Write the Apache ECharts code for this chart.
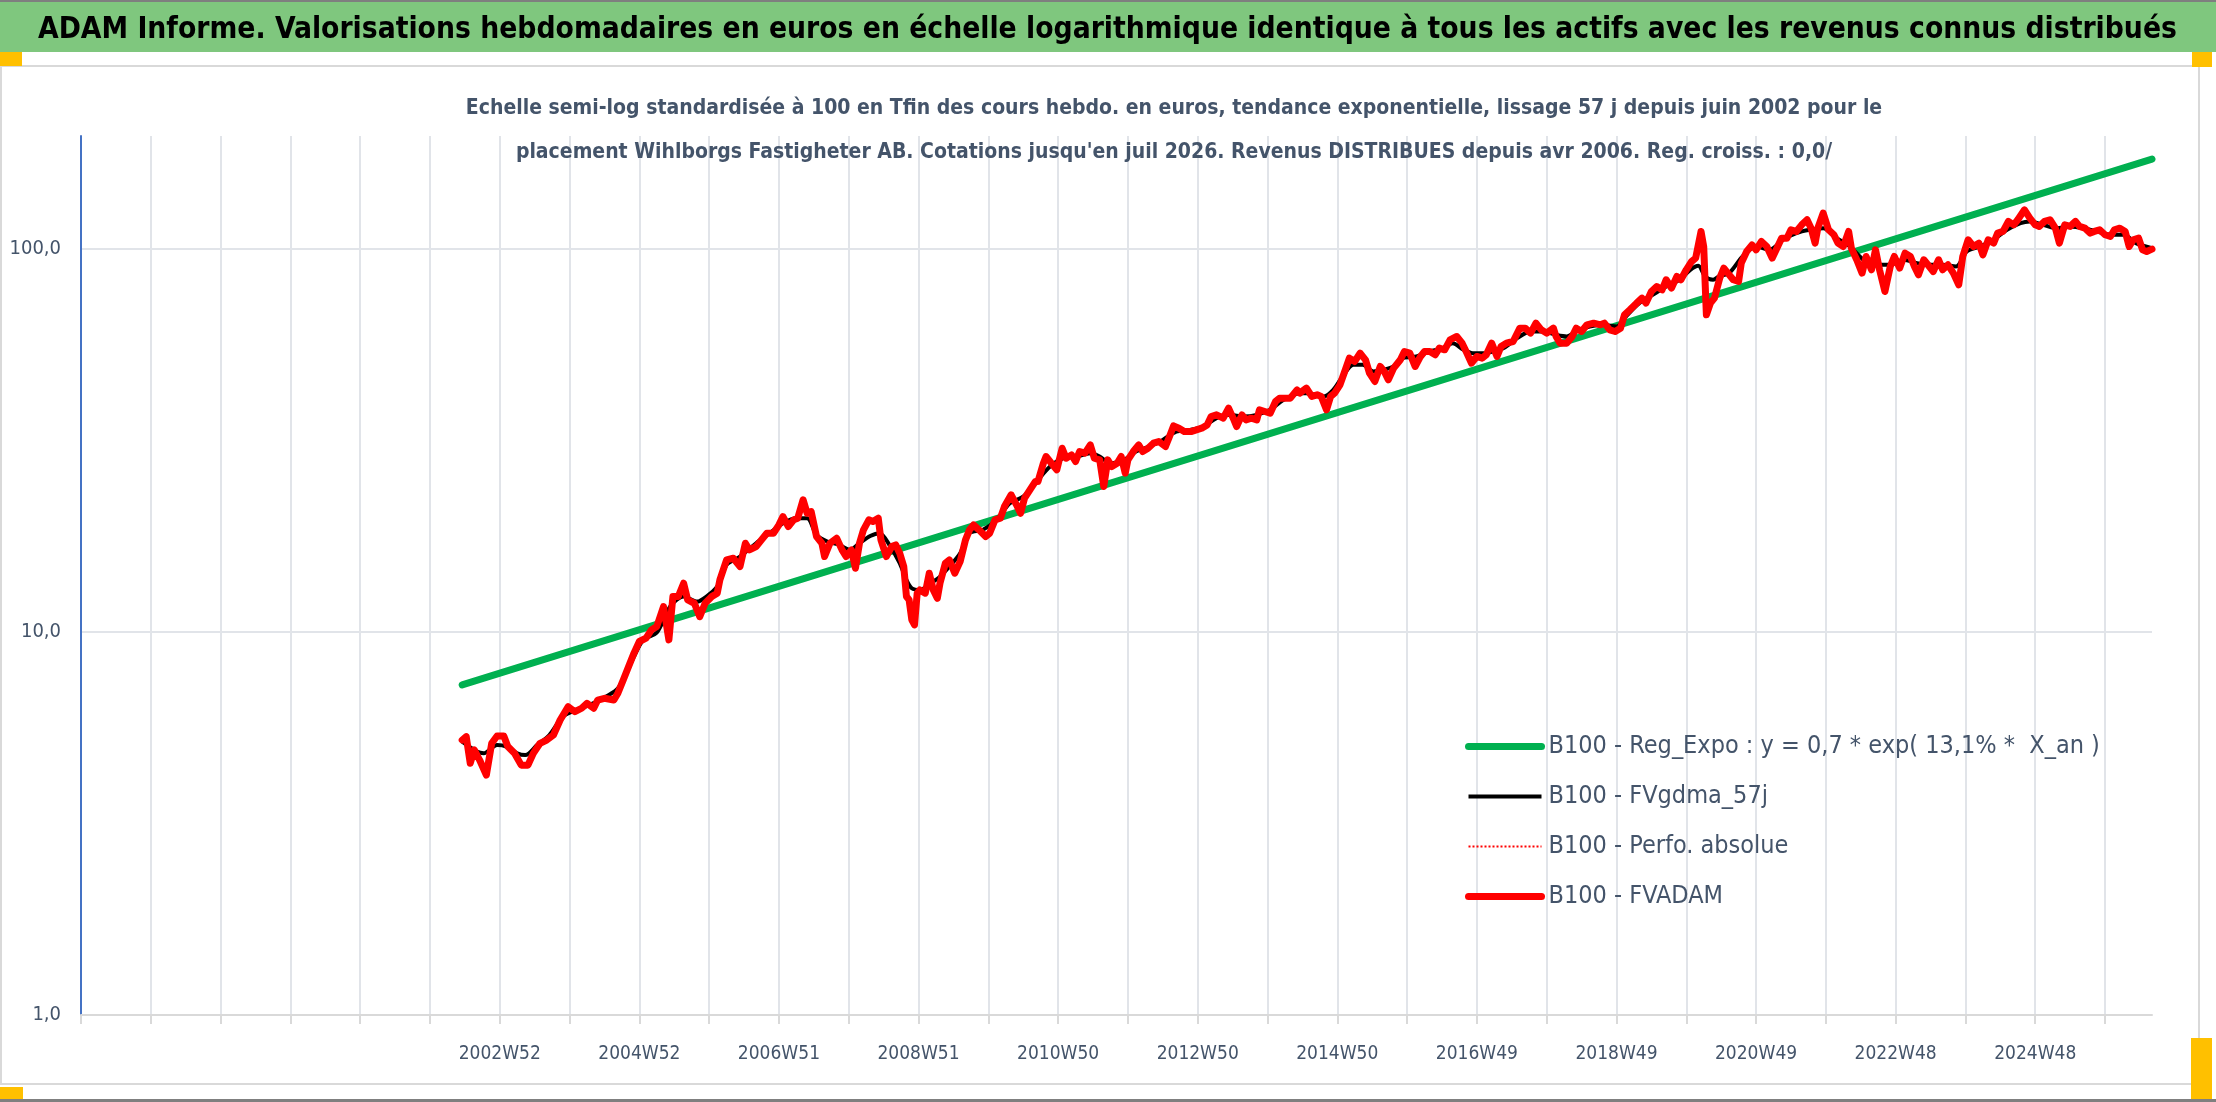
<!DOCTYPE html>
<html>
<head>
<meta charset="utf-8">
<title>ADAM Informe - Wihlborgs Fastigheter AB</title>
<script src="https://cdn.jsdelivr.net/npm/echarts@6/dist/echarts.min.js"></script>
<style>
    html, body { margin: 0; padding: 0; background: #ffffff; }
    #chart { width: 2216px; height: 1102px; }
</style>
</head>
<body>
<div id="chart"></div>
<script>
    // weekly axis: first category is the week of 1996-12-30, last one end of july 2026
    const firstWeekDate = '1996-12-30';
    const weekCount = 1544;
    const firstDataWeek = 284; // juin 2002

    // B100 - FVADAM (red), week index -> value
    const redWeeks = [284, 287, 290, 293, 297, 302, 306, 310, 315, 318, 323, 328, 333, 337, 342, 347, 352, 357, 363, 368,
        373, 377, 382, 385, 390, 397, 400, 404, 408, 412, 416, 421, 425, 429, 434, 438, 441, 445, 449, 452,
        457, 461, 465, 470, 474, 476, 481, 486, 491, 495, 498, 503, 507, 511, 516, 520, 523, 527, 531, 534,
        538, 541, 544, 548, 552, 554, 558, 563, 567, 570, 574, 577, 580, 583, 587, 590, 594,
        596, 600, 604, 607, 610, 613, 615, 617, 619, 621, 623, 625, 629, 632, 635, 638, 640, 644, 647, 651,
        655, 659, 662, 665, 669, 674, 677, 681, 685, 688, 693, 697, 700, 703, 707, 711, 713, 717, 719, 723,
        727, 731, 734, 738, 741, 744, 748, 752, 755, 759, 762, 765, 768, 772, 775, 778, 780, 784, 788, 791,
        795, 799, 803, 808, 811, 814, 818, 822, 827, 831, 835, 839, 842, 846, 851, 855, 859, 861, 865, 868,
        872, 876, 878, 882, 886, 890, 893, 897, 901, 906,
        908, 913, 917, 921, 924, 928, 931, 934, 938, 942, 945, 949, 953, 957, 960, 964, 968, 971, 974, 978,
        983, 986, 990, 994, 998, 1001, 1005, 1009, 1012, 1016, 1020, 1025, 1029, 1032, 1036, 1040, 1044, 1047, 1051, 1055,
        1058, 1062, 1067, 1072, 1076, 1080, 1084, 1088, 1092, 1097, 1099, 1102, 1107, 1111, 1114, 1118, 1122, 1127, 1132, 1135,
        1139, 1143, 1147, 1150, 1154, 1159, 1163, 1166, 1170, 1174, 1178, 1181, 1185, 1189, 1192, 1196, 1200, 1203, 1207, 1209,
        1211, 1214, 1217, 1221,
        1224, 1227, 1231, 1235, 1237, 1241, 1245, 1248, 1252, 1256, 1260, 1263, 1267, 1271, 1274, 1278, 1282, 1286, 1289, 1292,
        1294, 1298, 1302, 1306, 1309, 1313, 1317, 1319, 1323, 1327, 1330, 1334, 1337, 1340, 1344, 1348, 1351, 1355, 1359, 1363,
        1366, 1369, 1373, 1376, 1380, 1384, 1387, 1391, 1395, 1399, 1402, 1406, 1410, 1414, 1417, 1421, 1425, 1428, 1432, 1436,
        1440, 1443, 1448, 1452, 1456, 1459, 1463, 1467, 1471, 1474, 1478, 1482, 1486, 1489, 1493, 1497, 1500, 1504, 1508, 1512,
        1515, 1519, 1523, 1526, 1529, 1533, 1536, 1539, 1543];
    const redValues = [5.22, 5.33, 4.54, 4.92, 4.63, 4.23, 5.12, 5.35, 5.35, 5.02, 4.82, 4.49, 4.49, 4.82, 5.12, 5.22, 5.38, 5.89, 6.38, 6.19,
        6.32, 6.51, 6.32, 6.64, 6.71, 6.64, 6.92, 7.49, 8.12, 8.80, 9.44, 9.63, 10.12, 10.33, 11.65, 9.53, 12.37, 12.37, 13.40, 12.12,
        11.88, 10.96, 11.88, 12.37, 12.62, 13.67, 15.42, 15.57, 14.81, 17.04, 16.37, 16.70, 17.39, 18.10, 18.10, 19.03, 20.00, 18.84, 19.61, 19.81,
        22.12, 20.40, 20.61, 17.74, 17.04, 15.73, 17.04, 17.56, 16.37, 15.73, 16.37, 14.66, 17.04, 18.47, 19.61, 19.42, 19.81,
        17.39, 15.73, 16.70, 16.87, 16.05, 14.81, 12.37, 12.12, 10.75, 10.43, 12.62, 12.87, 12.62, 14.23, 12.87, 12.24, 13.40, 15.11, 15.41, 14.23,
        15.26, 17.39, 18.47, 19.02, 18.47, 17.74, 18.10, 19.61, 19.81, 21.24, 22.79, 21.46, 20.40, 22.34, 23.48, 24.69, 24.69, 27.56, 28.69, 27.56,
        26.48, 30.16, 28.40, 28.98, 27.85, 29.57, 29.28, 30.77, 28.40, 28.12, 23.96, 28.12, 27.02, 27.56, 28.69, 25.96, 28.12, 29.57, 30.77, 29.57,
        30.16, 31.09, 31.40, 30.47, 32.36, 34.50, 34.02, 33.34, 33.34, 33.68, 34.02, 34.70, 36.49, 36.86, 36.13, 38.37, 35.77, 34.36, 36.86, 35.77,
        36.13, 35.77, 37.99, 37.61, 37.23, 39.94, 40.75, 40.75, 40.75, 42.83,
        42.00, 43.27, 41.17, 41.58, 41.17, 37.99, 41.17, 42.00, 44.16, 48.33, 51.84, 50.81, 53.41, 51.31, 47.37, 45.06, 49.30, 47.85, 45.50, 48.82,
        51.31, 53.95, 53.41, 49.30, 52.36, 53.95, 53.95, 52.89, 55.05, 54.50, 57.86, 59.04, 56.71, 53.95, 50.29, 52.36, 51.84, 52.89, 56.71, 52.36,
        55.59, 56.71, 57.28, 62.06, 62.06, 60.24, 63.97, 61.45, 60.24, 62.06, 59.04, 56.71, 56.71, 59.04, 62.06, 60.84, 63.33, 63.97, 63.33, 63.97,
        61.45, 60.84, 62.06, 67.25, 69.31, 72.14, 74.34, 72.14, 77.37, 79.74, 78.16, 83.03, 78.95, 84.71, 83.03, 88.16, 92.69, 94.56, 111.0, 101.4,
        67.25, 72.14, 74.34, 84.0,
        89.03, 86.41, 83.03, 82.19, 91.76, 98.42, 102.4, 99.40, 104.5, 101.4, 94.54, 99.40, 106.6, 106.6, 112.1, 111.0, 115.5, 119.1, 113.2, 103.5,
        113.2, 123.9, 112.1, 108.8, 103.5, 101.4, 111.0, 100.4, 93.61, 86.41, 95.50, 88.16, 99.40, 88.16, 77.37, 89.93, 95.50, 89.03, 97.43, 95.50,
        89.93, 85.54, 93.61, 90.84, 87.27, 93.61, 88.16, 90.84, 86.41, 80.54, 95.50, 105.6, 101.4, 103.5, 96.45, 105.6, 103.5, 109.9, 111.0, 117.9,
        115.5, 119.1, 126.4, 120.3, 115.5, 114.4, 117.9, 119.1, 113.2, 103.5, 115.5, 114.4, 117.9, 114.4, 113.2, 109.9, 111.0, 112.1, 108.8, 107.7,
        112.1, 113.2, 111.0, 101.4, 105.6, 106.6, 99.40, 98.42, 99.8];

    // B100 - FVgdma_57j (black, smoothed)
    const blackWeeks = [284, 295, 300, 310, 317, 325, 331, 340, 349, 359, 369, 379, 389, 399, 404, 412, 419, 429, 439, 449,
        459, 466, 474, 481, 491, 503, 513, 523, 533, 541, 548, 556, 565, 573, 580, 588, 595, 603, 610, 615,
        619, 625, 633, 640, 647, 655, 662, 672, 682, 692, 702, 712, 722, 732, 742, 752, 759, 767, 777, 786,
        796, 806, 816, 826, 836, 846, 856, 866, 876, 886, 896, 908, 913, 926, 933, 940, 948, 955, 963, 970,
        978, 985, 995, 1005, 1015, 1022, 1030, 1037, 1045, 1052, 1060, 1070, 1080, 1089, 1099, 1107, 1114, 1124, 1134, 1144,
        1151, 1161, 1171, 1181, 1191, 1199, 1205, 1210, 1216, 1221, 1228, 1238, 1248, 1258, 1268, 1278, 1288, 1298, 1308, 1318,
        1328, 1338, 1348, 1358, 1368, 1378, 1387, 1397, 1405, 1415, 1425, 1435, 1445, 1452, 1462, 1472, 1482, 1492, 1502, 1512,
        1522, 1531, 1543];
    const blackValues = [5.17, 4.87, 4.82, 5.07, 5.02, 4.82, 4.77, 5.07, 5.38, 6.01, 6.26, 6.45, 6.71, 7.06, 7.49, 8.62, 9.53, 9.96, 11.65, 12.37,
        12.00, 12.37, 13.13, 14.96, 15.73, 17.04, 18.10, 19.22, 19.81, 19.81, 17.92, 17.22, 16.87, 16.37, 17.04, 17.80, 18.10, 16.70, 15.11, 13.67,
        13.00, 12.87, 13.40, 13.94, 14.81, 16.05, 18.10, 18.47, 19.61, 21.67, 22.56, 24.69, 27.02, 28.40, 28.69, 29.28, 28.69, 27.56, 28.12, 29.57,
        30.47, 31.71, 33.34, 33.68, 34.36, 36.13, 36.86, 36.49, 36.86, 37.99, 40.34, 41.98, 42.00, 41.17, 42.84, 46.43, 49.80, 49.80, 47.85, 48.33,
        49.30, 51.84, 52.36, 53.95, 55.05, 56.71, 54.50, 53.41, 53.41, 53.95, 55.05, 58.45, 60.84, 60.84, 59.63, 59.04, 60.84, 62.69, 63.33, 62.69,
        66.58, 72.14, 75.85, 79.74, 83.03, 88.16, 90.31, 84.71, 83.03, 85.0, 86.41, 95.50, 101.4, 99.40, 105.6, 109.9, 112.1, 113.2, 106.6, 101.4,
        93.61, 90.84, 90.84, 93.61, 91.76, 90.84, 90.84, 89.93, 98.42, 101.4, 105.6, 112.1, 116.7, 117.9, 115.5, 113.2, 114.4, 113.2, 111.0, 108.8,
        108.8, 103.5, 100.4];

    // B100 - Reg_Expo (green): straight line in semi-log, start and end read on the picture
    const greenWeeks = [284, 1543];
    const greenValues = [7.27, 171.5];

    const yTickValues = [1, 10, 100];
    const yMax = 197;

    const FONT = "'DejaVu Sans Condensed', 'Liberation Sans Narrow', 'Open Sans', sans-serif";
    const GRID_COLOR = '#e1e4e9';
    const TEXT_COLOR = '#44546a';

    function pad(n) { return n < 10 ? '0' + n : '' + n; }
    function isoWeek(d) {
        let t = new Date(Date.UTC(d.getUTCFullYear(), d.getUTCMonth(), d.getUTCDate()));
        let day = t.getUTCDay() || 7;
        t.setUTCDate(t.getUTCDate() + 4 - day);
        let yearStart = new Date(Date.UTC(t.getUTCFullYear(), 0, 1));
        return Math.ceil(((t - yearStart) / 86400000 + 1) / 7);
    }

    // category labels, blank before the first quote
    let weekLabels = [];
    let d0 = new Date(firstWeekDate + 'T00:00:00Z');
    for (let i = 0; i < weekCount; i++) {
        let d = new Date(d0.getTime() + i * 7 * 86400000);
        weekLabels.push(i < firstDataWeek ? '' : d.getUTCFullYear() + 'W' + pad(isoWeek(d)));
    }

    function pairs(weeks, values) {
        return weeks.map(function (w, k) { return [w, values[k]]; });
    }

    let myChart = echarts.init(document.getElementById('chart'));

    let option = {
        animation: false,
        backgroundColor: '#ffffff',
        textStyle: { fontFamily: FONT },
        graphic: [
            { type: 'rect', shape: { x: 0, y: 0, width: 2216, height: 2 }, style: { fill: '#7f7f7f' }, silent: true },
            { type: 'rect', shape: { x: 0, y: 2, width: 2216, height: 50 }, style: { fill: '#7fc77e' }, silent: true },
            { type: 'rect', shape: { x: 1, y: 66, width: 2198, height: 1018 }, style: { fill: 'none', stroke: '#d9d9d9', lineWidth: 2 }, silent: true },
            { type: 'rect', shape: { x: 0, y: 1099, width: 2216, height: 3 }, style: { fill: '#7f7f7f' }, silent: true },
            { type: 'rect', shape: { x: 0, y: 52, width: 22, height: 14 }, style: { fill: '#ffc000' }, silent: true },
            { type: 'rect', shape: { x: 2192, y: 52, width: 20, height: 15 }, style: { fill: '#ffc000' }, silent: true },
            { type: 'rect', shape: { x: 0, y: 1087, width: 23, height: 12 }, style: { fill: '#ffc000' }, silent: true },
            { type: 'rect', shape: { x: 2191, y: 1038, width: 21, height: 61 }, style: { fill: '#ffc000' }, silent: true }
        ],
        title: [
            {
                text: 'ADAM Informe. Valorisations hebdomadaires en euros en échelle logarithmique identique à tous les actifs avec les revenus connus distribués',
                left: 38,
                top: 11,
                padding: 0,
                textStyle: { fontFamily: FONT, fontSize: 29.7, fontWeight: 'bold', color: '#000000', lineHeight: 38 }
            },
            {
                text: "Echelle semi-log standardisée à 100 en Tfin des cours hebdo. en euros, tendance exponentielle, lissage 57 j depuis juin 2002 pour le\nplacement Wihlborgs Fastigheter AB. Cotations jusqu'en juil 2026. Revenus DISTRIBUES depuis avr 2006. Reg. croiss. : 0,0/",
                left: 1174,
                top: 87,
                padding: 0,
                textAlign: 'center',
                textStyle: { fontFamily: FONT, fontSize: 21, fontWeight: 'bold', color: TEXT_COLOR, lineHeight: 44, align: 'center' }
            }
        ],
        legend: {
            orient: 'vertical',
            left: 1460,
            top: 729,
            itemWidth: 73,
            itemHeight: 14,
            itemGap: 25,
            itemStyle: { opacity: 0 },
            lineStyle: { width: 'inherit' },
            textStyle: { fontFamily: FONT, fontSize: 25, color: TEXT_COLOR, padding: [0, 0, 0, 2] },
            data: ['B100 - Reg_Expo : y = 0,7 * exp( 13,1% *  X_an )', 'B100 - FVgdma_57j', 'B100 - Perfo. absolue', 'B100 - FVADAM']
        },
        grid: { left: 81, right: 64, top: 136, bottom: 87, containLabel: false },
        xAxis: {
            type: 'category',
            data: weekLabels,
            boundaryGap: false,
            axisLine: { show: true, lineStyle: { color: '#d9d9d9', width: 2 } },
            axisTick: { show: true, interval: 51, length: 9, lineStyle: { color: '#d9d9d9', width: 2 } },
            axisLabel: { interval: 103, margin: 30, fontSize: 19, color: TEXT_COLOR, fontFamily: FONT },
            splitLine: { show: true, interval: 51, lineStyle: { color: GRID_COLOR, width: 2 } }
        },
        yAxis: {
            type: 'log',
            logBase: 10,
            min: yTickValues[0],
            max: yMax,
            axisLine: { show: true, lineStyle: { color: '#4472c4', width: 2 } },
            axisTick: { show: false },
            axisLabel: {
                margin: 20,
                fontSize: 20,
                color: TEXT_COLOR,
                fontFamily: FONT,
                showMaxLabel: false,
                formatter: function (v) {
                    let r = Math.round(v);
                    if (yTickValues.indexOf(r) < 0) return '';
                    return r.toFixed(1).replace('.', ',');
                }
            },
            splitLine: { show: true, showMinLine: false, showMaxLine: false, lineStyle: { color: GRID_COLOR, width: 2 } }
        },
        series: [
            {
                name: 'B100 - Reg_Expo : y = 0,7 * exp( 13,1% *  X_an )',
                type: 'line',
                symbol: 'none',
                data: pairs(greenWeeks, greenValues),
                lineStyle: { color: '#00b050', width: 7, cap: 'round' },
                itemStyle: { color: '#00b050' }
            },
            {
                name: 'B100 - FVgdma_57j',
                type: 'line',
                symbol: 'none',
                data: pairs(blackWeeks, blackValues),
                smooth: 0.3,
                lineStyle: { color: '#000000', width: 4 },
                itemStyle: { color: '#000000' }
            },
            {
                name: 'B100 - Perfo. absolue',
                type: 'line',
                symbol: 'none',
                data: [],
                lineStyle: { color: '#ff0000', width: 2, type: 'dotted' },
                itemStyle: { color: '#ff0000' }
            },
            {
                name: 'B100 - FVADAM',
                type: 'line',
                symbol: 'none',
                data: pairs(redWeeks, redValues),
                lineStyle: { color: '#ff0000', width: 7, join: 'round', cap: 'round' },
                itemStyle: { color: '#ff0000' }
            }
        ]
    };

    myChart.setOption(option);
</script>
</body>
</html>
